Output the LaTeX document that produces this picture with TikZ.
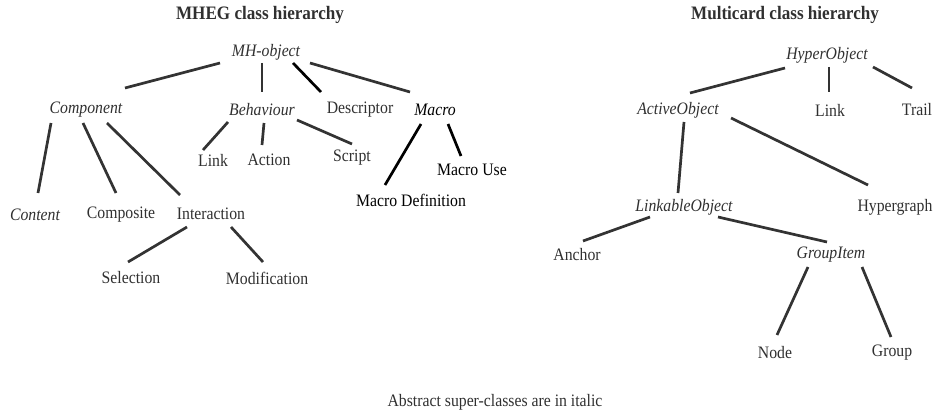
\documentclass[tikz,border=0pt]{standalone}
\usepackage{fontspec}
\setmainfont{Liberation Serif}[FakeStretch=0.9]
\begin{document}
\begin{tikzpicture}[x=1pt,y=-1pt,
  every node/.style={inner sep=0pt,outer sep=0pt,anchor=center},
  cls/.style={text=textgray,font=\fontsize{17.5}{19}\selectfont},
  abs/.style={cls,font=\fontsize{17.5}{19}\selectfont\itshape},
  dark/.style={text=black},
  ttl/.style={text=textgray,font=\fontsize{19}{21}\selectfont\bfseries},
  link/.style={draw=linegray,line width=2.7pt},
  blink/.style={draw=black,line width=2.7pt}]
\definecolor{textgray}{HTML}{303030}
\definecolor{linegray}{HTML}{333333}
\useasboundingbox (0,0) rectangle (937,412);

% ---------- MHEG tree ----------
\node[ttl] (t1) at (260,15) {MHEG class hierarchy};
\node[abs] (mh) at (266,52) {MH-object};
\node[abs] (comp) at (86,110) {Component};
\node[abs] (beh) at (262,110) {Behaviour};
\node[cls] (desc) at (360,110) {Descriptor};
\node[abs,dark] (macro) at (435,110) {Macro};
\node[cls] (mlink) at (213,160) {Link};
\node[cls] (act) at (269,160) {Action};
\node[cls] (scr) at (352,158) {Script};
\node[cls,dark] (muse) at (472,170) {Macro Use};
\node[cls,dark] (mdef) at (411,200) {Macro Definition};
\node[abs] (cont) at (35,215) {Content};
\node[cls] (compo) at (121,215) {Composite};
\node[cls] (inter) at (211,214) {Interaction};
\node[cls] (sel) at (131,278) {Selection};
\node[cls] (mod) at (267,278) {Modification};

\draw[link] ([shift={(-46,11)}]mh.center) -- ([shift={(39,-22)}]comp.center);
\draw[link] ([shift={(-4,11)}]mh.center) -- ([shift={(0,-18)}]beh.center);
\draw[blink] ([shift={(27,11)}]mh.center) -- ([shift={(-39,-18)}]desc.center);
\draw[link] ([shift={(44,11)}]mh.center) -- ([shift={(-25,-18)}]macro.center);
\draw[link] ([shift={(-35,13)}]comp.center) -- ([shift={(3,-22)}]cont.center);
\draw[link] ([shift={(-3,13)}]comp.center) -- ([shift={(-5,-22)}]compo.center);
\draw[link] ([shift={(21,13)}]comp.center) -- ([shift={(-31,-19)}]inter.center);
\draw[link] ([shift={(-34,12)}]beh.center) -- ([shift={(-10,-10)}]mlink.center);
\draw[link] ([shift={(2,13)}]beh.center) -- ([shift={(-7,-15)}]act.center);
\draw[link] ([shift={(35,10)}]beh.center) -- ([shift={(0,-14)}]scr.center);
\draw[blink] ([shift={(-14,14)}]macro.center) -- ([shift={(-26,-15)}]mdef.center);
\draw[blink] ([shift={(13,14)}]macro.center) -- ([shift={(-11,-14)}]muse.center);
\draw[link] ([shift={(-24,13)}]inter.center) -- ([shift={(-3,-16)}]sel.center);
\draw[link] ([shift={(20,13)}]inter.center) -- ([shift={(-4,-16)}]mod.center);

% ---------- Multicard tree ----------
\node[ttl] (t2) at (785,15) {Multicard class hierarchy};
\node[abs] (hyp) at (827,55) {HyperObject};
\node[abs] (actobj) at (678,110) {ActiveObject};
\node[cls] (clink) at (830,110) {Link};
\node[cls] (trail) at (917,110) {Trail};
\node[abs] (linkobj) at (684,207) {LinkableObject};
\node[cls] (hgraph) at (895,207) {Hypergraph};
\node[cls] (anch) at (577,255) {Anchor};
\node[abs] (gitem) at (831,255) {GroupItem};
\node[cls] (nd) at (775,353) {Node};
\node[cls] (grp) at (892,353) {Group};

\draw[link] ([shift={(-42,13)}]hyp.center) -- ([shift={(12,-17)}]actobj.center);
\draw[link] ([shift={(2,12)}]hyp.center) -- ([shift={(-1,-18)}]clink.center);
\draw[link] ([shift={(46,12)}]hyp.center) -- ([shift={(-5,-22)}]trail.center);
\draw[link] ([shift={(6,12)}]actobj.center) -- ([shift={(-6,-14)}]linkobj.center);
\draw[link] ([shift={(53,8)}]actobj.center) -- ([shift={(-27,-22)}]hgraph.center);
\draw[link] ([shift={(-34,10)}]linkobj.center) -- ([shift={(6,-14)}]anch.center);
\draw[link] ([shift={(34,10)}]linkobj.center) -- ([shift={(-4,-13)}]gitem.center);
\draw[link] ([shift={(-23,12)}]gitem.center) -- ([shift={(2,-18)}]nd.center);
\draw[link] ([shift={(31,12)}]gitem.center) -- ([shift={(-1,-16)}]grp.center);

% ---------- footnote ----------
\node[cls] (note) at (495,402) {Abstract super-classes are in italic};
\end{tikzpicture}
\end{document}
